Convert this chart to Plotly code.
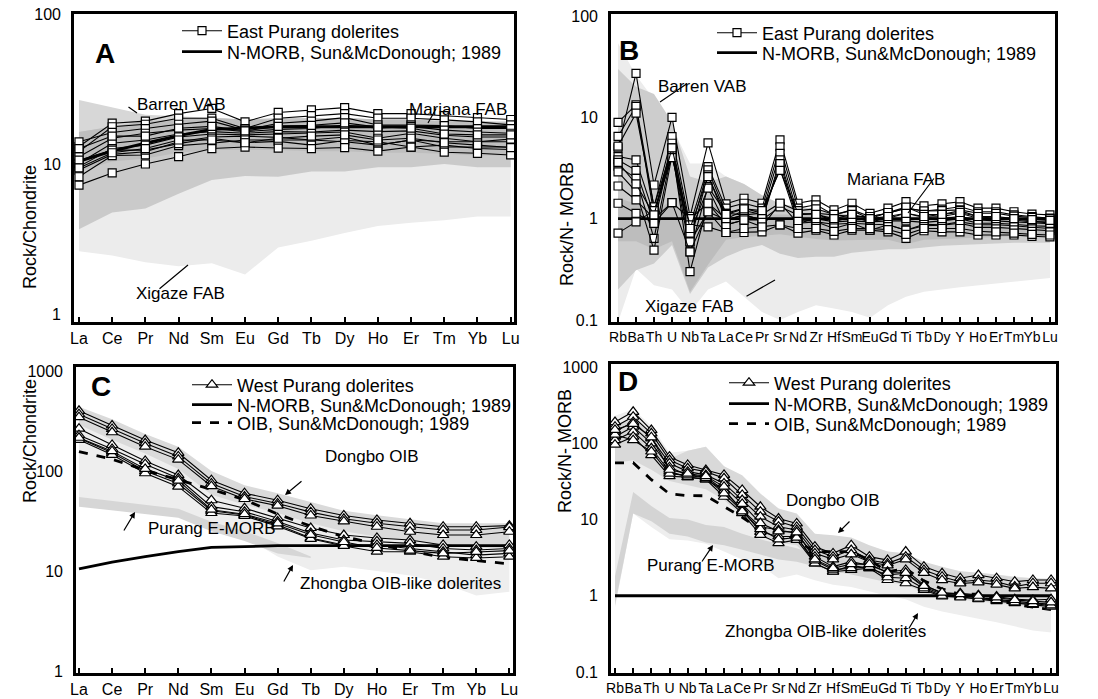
import numpy as np
import plotly.graph_objects as go

W, H = 1098, 699

REE = ["La", "Ce", "Pr", "Nd", "Sm", "Eu", "Gd", "Tb", "Dy", "Ho", "Er", "Tm", "Yb", "Lu"]
SPIDER = ["Rb", "Ba", "Th", "U", "Nb", "Ta", "La", "Ce", "Pr", "Sr", "Nd", "Zr", "Hf",
          "Sm", "Eu", "Gd", "Ti", "Tb", "Dy", "Y", "Ho", "Er", "Tm", "Yb", "Lu"]

# ---------------- Panel A : East Purang, chondrite normalised ----------------
A_SAMPLES = [
    [13.2, 18.9, 19.5, 21.9, 23.7, 19.3, 22.3, 23.2, 24.0, 21.9, 21.9, 21.2, 20.6, 20.0],
    [12.2, 17.9, 18.6, 20.4, 20.4, 17.4, 20.4, 21.2, 21.9, 20.4, 20.4, 19.9, 19.3, 18.4],
    [14.2, 16.4, 17.4, 18.6, 19.5, 17.0, 18.9, 19.5, 20.6, 18.4, 18.4, 18.2, 17.4, 17.4],
    [11.3, 15.0, 16.2, 17.0, 17.4, 16.6, 17.2, 17.4, 18.4, 17.5, 18.0, 17.0, 16.5, 16.2],
    [10.2, 13.9, 14.6, 16.0, 16.6, 16.2, 16.6, 16.5, 17.0, 16.6, 16.8, 15.7, 15.3, 15.3],
    [9.7, 12.8, 13.5, 15.3, 16.0, 15.8, 16.0, 16.2, 16.5, 15.0, 16.2, 15.0, 14.2, 14.8],
    [9.2, 11.7, 12.2, 14.2, 15.3, 15.5, 15.2, 14.6, 15.3, 13.5, 14.6, 14.2, 14.2, 14.2],
    [8.3, 11.5, 11.6, 13.4, 13.9, 14.6, 14.6, 14.6, 14.2, 13.5, 14.6, 13.1, 13.1, 13.1],
    [10.7, 12.5, 12.5, 13.8, 15.0, 14.0, 14.3, 13.5, 14.5, 14.2, 13.1, 13.5, 12.8, 12.6],
    [7.3, 8.8, 10.1, 11.3, 12.8, 13.1, 12.9, 12.8, 13.0, 12.3, 13.1, 12.1, 11.9, 11.6],
    [9.5, 12.0, 12.8, 14.6, 14.6, 14.0, 15.0, 15.5, 15.8, 14.6, 15.0, 14.0, 13.5, 13.0],
    [12.8, 15.5, 15.5, 17.5, 18.0, 16.8, 18.0, 18.3, 19.0, 17.8, 17.5, 16.0, 15.8, 15.8],
]
A_NMORB = [10.5, 12.3, 13.9, 15.6, 17.2, 17.6, 17.9, 17.9, 17.9, 17.8, 17.9, 17.9, 17.9, 17.9]
A_XIGAZE_TOP = [5.0, 6.0, 6.5, 8.0, 10.0, 10.0, 10.0, 11.0, 11.0, 11.0, 11.0, 11.0, 11.0, 11.0]
A_XIGAZE_BOT = [2.64, 2.48, 2.23, 2.10, 2.20, 1.85, 2.80, 3.10, 3.50, 3.90, 4.10, 4.25, 4.50, 4.50]
A_MARIANA_TOP = [16.5, 18.0, 19.5, 20.0, 20.5, 20.0, 20.5, 20.5, 20.5, 20.0, 20.0, 19.5, 19.5, 19.0]
A_MARIANA_BOT = [3.7, 4.8, 5.1, 6.4, 7.9, 8.4, 8.3, 9.0, 9.0, 9.6, 9.6, 10.1, 9.6, 9.6]
A_BARREN_TOP = [27.0, 24.0, 21.5, 21.0, 20.5, 20.0, 20.0, 20.0, 20.5, 20.0, 20.0, 19.5, 19.5, 19.5]
A_BARREN_BOT = [9.0, 10.5, 11.0, 12.0, 12.5, 12.5, 12.5, 12.3, 12.3, 12.0, 12.0, 11.8, 11.5, 11.5]

# ---------------- Panel B : East Purang, N-MORB normalised ----------------
B_SAMPLES = [
    [5.0, 27.2, 2.15, 10.0, 1.05, 5.6, 1.40, 1.59, 1.42, 6.0, 1.42, 1.53, 1.22, 1.42, 1.13, 1.27, 1.47, 1.34, 1.40, 1.47, 1.27, 1.27, 1.17, 1.11, 1.09],
    [8.9, 13.3, 1.31, 6.45, 0.87, 3.26, 1.27, 1.42, 1.27, 5.1, 1.27, 1.37, 1.09, 1.22, 1.05, 1.13, 1.27, 1.19, 1.24, 1.31, 1.17, 1.17, 1.09, 1.05, 1.01],
    [6.5, 12.8, 1.09, 5.55, 0.72, 3.03, 1.13, 1.27, 1.13, 4.4, 1.09, 1.13, 0.93, 1.05, 0.93, 1.01, 1.13, 1.03, 1.05, 1.13, 1.01, 1.01, 0.97, 0.93, 0.93],
    [5.2, 11.0, 1.31, 4.95, 0.59, 2.7, 0.97, 1.09, 0.97, 3.8, 1.0, 0.93, 0.80, 0.90, 0.77, 0.87, 0.77, 0.88, 0.87, 0.93, 0.87, 0.87, 0.85, 0.82, 0.80],
    [4.1, 3.8, 1.09, 4.42, 0.47, 2.07, 1.13, 1.09, 1.13, 3.1, 0.90, 1.0, 0.93, 0.95, 0.93, 0.95, 0.95, 0.92, 0.95, 1.0, 0.90, 0.90, 0.88, 0.85, 0.84],
    [3.8, 3.0, 0.90, 5.0, 0.30, 1.42, 0.87, 0.97, 0.83, 1.42, 0.90, 0.93, 0.88, 0.90, 0.88, 0.87, 0.77, 0.85, 0.86, 0.90, 0.82, 0.82, 0.80, 0.78, 0.76],
    [3.3, 2.5, 0.64, 4.6, 0.59, 1.17, 0.97, 1.09, 0.97, 1.31, 1.09, 1.13, 1.09, 1.05, 1.05, 1.13, 1.27, 1.19, 1.20, 1.22, 1.13, 1.13, 1.06, 1.03, 1.0],
    [2.9, 1.85, 0.49, 4.2, 0.72, 2.0, 0.87, 0.97, 0.97, 3.5, 0.95, 1.0, 0.97, 1.0, 0.97, 1.0, 1.0, 1.0, 1.0, 1.05, 0.97, 0.95, 0.93, 0.90, 0.89],
    [2.1, 1.53, 1.0, 1.44, 0.47, 1.17, 0.73, 0.73, 0.74, 0.87, 0.72, 0.77, 0.69, 0.77, 0.77, 0.74, 0.64, 0.76, 0.74, 0.74, 0.69, 0.69, 0.69, 0.67, 0.66],
    [1.42, 1.13, 0.90, 1.44, 1.0, 1.42, 1.0, 1.2, 1.1, 1.42, 1.2, 1.25, 1.1, 1.2, 1.0, 1.15, 1.3, 1.1, 1.1, 1.2, 1.05, 1.0, 1.0, 0.95, 0.90],
    [0.72, 0.93, 1.2, 4.0, 0.87, 0.83, 0.73, 0.80, 0.83, 0.87, 0.80, 0.80, 0.75, 0.80, 0.80, 0.78, 0.70, 0.80, 0.80, 0.80, 0.75, 0.74, 0.72, 0.70, 0.69],
    [3.6, 2.2, 1.09, 5.0, 0.80, 2.6, 1.1, 1.25, 1.2, 3.0, 1.13, 1.1, 1.0, 1.1, 1.0, 1.05, 1.13, 1.05, 1.1, 1.15, 1.05, 1.05, 1.0, 0.98, 0.96],
]
B_NMORB = [1.0] * len(SPIDER)
B_XIGAZE_TOP = [54, 26, 15, 8, 3.5, 3.5, 2.6, 2.2, 1.7, 1.4, 1.3, 1.25, 1.15, 1.1, 1.05, 1.05, 1.05, 1.05, 1.05, 1.05, 1.0, 1.0, 1.0, 1.0, 1.0]
B_XIGAZE_BOT = [0.095, 0.32, 0.22, 0.2, 0.12, 0.2, 0.24, 0.17, 0.12, 0.1, 0.12, 0.14, 0.13, 0.12, 0.105, 0.14, 0.17, 0.19, 0.2, 0.21, 0.22, 0.23, 0.24, 0.25, 0.26]
B_BARREN_TOP = [30, 20, 17, 9, 2.6, 2.3, 2.6, 2.2, 1.7, 1.4, 1.3, 1.25, 1.15, 1.1, 1.05, 1.05, 1.05, 1.05, 1.05, 1.05, 1.0, 1.0, 1.0, 1.0, 1.0]
B_BARREN_BOT = [0.2, 0.31, 0.36, 0.55, 0.18, 0.33, 0.42, 0.5, 0.55, 0.45, 0.41, 0.42, 0.42, 0.46, 0.48, 0.5, 0.5, 0.52, 0.54, 0.55, 0.56, 0.57, 0.58, 0.58, 0.58]
B_MARIANA_TOP = [1.6, 1.4, 1.2, 1.5, 0.95, 1.4, 1.25, 1.15, 1.1, 1.1, 1.1, 1.1, 1.05, 1.05, 1.0, 1.0, 1.0, 1.0, 1.0, 1.0, 1.0, 0.97, 0.97, 0.95, 0.95]
B_MARIANA_BOT = [0.6, 0.6, 0.5, 0.6, 0.19, 0.35, 0.62, 0.66, 0.68, 0.7, 0.66, 0.63, 0.61, 0.62, 0.62, 0.62, 0.56, 0.62, 0.64, 0.65, 0.65, 0.66, 0.67, 0.68, 0.68]

# ---------------- Panel C : West Purang, chondrite normalised ----------------
C_SAMPLES = [
    [400, 285, 204, 152, 81, 60, 51, 42, 35.9, 32.4, 30, 27.7, 27.7, 28.4],
    [370, 263, 189, 140, 75, 55.5, 47.4, 38.8, 33.3, 30, 27.7, 25.7, 25.7, 27.5],
    [345, 244, 175, 130, 70.5, 52.5, 45, 35.9, 31.3, 27.7, 24.7, 22.9, 22.9, 24.7],
    [265, 182, 126, 91, 51, 42.4, 33.8, 26.9, 22.9, 21.4, 20.4, 18.2, 17.5, 18.2],
    [228, 166, 117, 84.5, 44, 39.2, 31.3, 24, 20.4, 19.8, 18.9, 16.8, 16.2, 16.8],
    [212, 152, 100, 75, 40, 36.3, 29, 21.4, 18.2, 18.2, 16.8, 15.6, 14.4, 15.0],
    [205, 145, 95, 69.7, 38, 35.5, 28, 21, 17.8, 15.6, 15.6, 13.9, 13.5, 13.9],
    [215, 158, 105, 80, 41, 37, 30, 23, 19.5, 17, 16, 15, 15.5, 16],
]
C_NMORB = [10.5, 12.3, 13.9, 15.6, 17.2, 17.6, 17.9, 17.9, 17.9, 17.8, 17.9, 17.9, 17.9, 17.9]
C_OIB = [156, 131, 102, 82.4, 65.4, 51.7, 37.1, 28.1, 22.0, 18.7, 15.8, 13.7, 12.7, 11.8]
C_DONGBO_TOP = [440, 330, 235, 175, 100, 72, 60, 49, 40, 36, 33, 30, 30, 30]
C_DONGBO_BOT = [290, 205, 150, 105, 58, 46, 38, 30, 25, 22, 20, 18, 17, 17]
C_ZHONGBA_TOP = [300, 215, 155, 110, 62, 48, 40, 32, 26, 23, 21, 19, 18, 18]
C_ZHONGBA_BOT = [50, 45, 42, 38, 28, 22, 14, 10.2, 11, 10, 9, 7.5, 5.7, 6.2]
C_EMORB_TOP = [55, 50, 46, 42, 31, 25, 19, 14]
C_EMORB_BOT = [44, 40, 37, 34, 25, 20, 15, 13.5]

# ---------------- Panel D : West Purang, N-MORB normalised ----------------
D_SAMPLES = [
    [190, 259, 149, 66.7, 52, 44.6, 38.5, 24.4, 14.7, 10.3, 8.9, 4.4, 3.6, 4.6, 3.26, 2.94, 3.8, 2.41, 1.97, 1.7, 1.87, 1.7, 1.53, 1.61, 1.61],
    [165, 223, 135, 60.3, 47, 42.5, 34.7, 21, 12.7, 9.4, 8.0, 3.98, 3.26, 3.98, 2.94, 2.66, 3.26, 2.18, 1.78, 1.53, 1.61, 1.53, 1.32, 1.46, 1.46],
    [142, 191, 116, 54.6, 42.5, 38.5, 29.8, 18, 10.9, 8.05, 7.3, 3.6, 3.0, 3.5, 2.8, 2.5, 3.0, 2.0, 1.6, 1.45, 1.5, 1.4, 1.25, 1.3, 1.25],
    [122, 165, 100, 48.5, 38.5, 36, 24.4, 13.3, 8.05, 7.3, 6.6, 3.26, 2.41, 2.8, 2.5, 2.07, 2.18, 1.39, 1.08, 1.08, 1.02, 0.98, 0.90, 0.88, 0.90],
    [110, 142, 86, 42.5, 36, 33.7, 24, 13.3, 6.9, 6.0, 6.0, 2.66, 2.07, 2.5, 2.3, 1.87, 1.97, 1.3, 1.05, 1.0, 0.95, 0.90, 0.85, 0.80, 0.78],
    [96, 122, 70, 37, 36, 33.7, 19.9, 12.1, 6.3, 4.9, 5.4, 2.66, 2.07, 2.18, 2.3, 1.61, 1.46, 1.19, 0.98, 0.98, 0.90, 0.85, 0.80, 0.76, 0.72],
    [130, 110, 78, 40, 38, 35, 22, 12.8, 7.5, 5.5, 5.8, 2.9, 2.2, 2.3, 2.4, 1.75, 1.7, 1.25, 1.0, 0.95, 0.92, 0.88, 0.82, 0.78, 0.75],
    [150, 180, 120, 45, 40, 37, 27, 16, 9, 7, 6.8, 3.0, 2.3, 2.6, 2.6, 2.0, 2.0, 1.35, 1.1, 1.05, 1.0, 0.95, 0.88, 0.85, 0.82],
]
D_NMORB = [1.0] * len(SPIDER)
D_OIB = [55.4, 55.6, 33.3, 21.7, 20.6, 20.5, 14.8, 10.7, 7.35, 7.33, 5.27, 3.78, 3.80, 3.80, 2.94, 2.07, 2.26, 1.57, 1.23, 1.04, 1.05, 0.88, 0.77, 0.71, 0.66]
D_ZHONGBA_TOP = [230, 280, 170, 75, 80, 90, 50, 32, 20, 14, 11, 6.5, 6, 5.5, 4.5, 3.8, 3.5, 2.7, 2.3, 2.1, 2.0, 1.9, 1.8, 1.7, 1.7]
D_ZHONGBA_BOT = [0.7, 12, 8, 5.5, 5.3, 4.8, 3.8, 3.0, 2.5, 1.7, 1.9, 1.6, 1.4, 1.3, 1.15, 1.0, 0.9, 0.72, 0.62, 0.56, 0.5, 0.45, 0.4, 0.35, 0.33]
D_DONGBO_TOP = [180, 200, 140, 62, 80, 90, 50, 38, 22, 14, 12, 6.5, 6.2, 5.8, 4.6, 3.8, 3.6, 2.8, 2.4, 2.1, 2.0, 1.9, 1.75, 1.7, 1.65]
D_DONGBO_BOT = [55, 60, 45, 32, 28, 25, 18, 11, 6.5, 5, 4.6, 2.6, 2.0, 2.0, 1.8, 1.5, 1.4, 1.1, 0.95, 0.9, 0.85, 0.8, 0.75, 0.7, 0.7]
D_EMORB_TOP = [1.8, 23, 15, 10.5, 10, 8.5, 8, 6.5, 5.5, 4.8, 4.2, 3.5, 3.0, 2.8, 2.4, 2.1]
D_EMORB_BOT = [0.75, 12, 9.5, 6.5, 6, 5, 4.6, 4.0, 3.5, 3.0, 2.8, 2.4, 2.1, 1.9, 1.7, 1.5]

FONT = "Liberation Sans, Arial, Helvetica, sans-serif"
fig = go.Figure()


def field(xa, ya, top, bot, color):
    idx = list(range(len(top)))
    fig.add_trace(go.Scatter(
        x=idx + idx[::-1], y=list(top) + list(bot)[::-1], xaxis=xa, yaxis=ya,
        mode="lines", fill="toself", fillcolor=color, line=dict(width=0, color=color),
        hoverinfo="skip", showlegend=False))


def samples(xa, ya, rows, symbol, size, name, legend):
    for k, row in enumerate(rows):
        fig.add_trace(go.Scatter(
            x=list(range(len(row))), y=row, xaxis=xa, yaxis=ya, mode="lines+markers",
            line=dict(color="black", width=1.1),
            marker=dict(symbol=symbol, size=size, color="white", line=dict(color="black", width=1.2)),
            name=name, showlegend=(k == 0), legend=legend))


def refline(xa, ya, vals, name, legend, dash="solid"):
    fig.add_trace(go.Scatter(
        x=list(range(len(vals))), y=vals, xaxis=xa, yaxis=ya, mode="lines",
        line=dict(color="black", width=2.8, dash=dash), name=name, legend=legend))


NM = "N-MORB, Sun&McDonough; 1989"
OI = "OIB, Sun&McDonough; 1989"

# Panel A
field("x", "y", A_XIGAZE_TOP, A_XIGAZE_BOT, "#ececec")
field("x", "y", A_BARREN_TOP, A_BARREN_BOT, "#d7d7d7")
field("x", "y", A_MARIANA_TOP, A_MARIANA_BOT, "#cacaca")
field("x", "y", np.minimum(A_BARREN_TOP, A_MARIANA_TOP), np.maximum(A_BARREN_BOT, A_MARIANA_BOT), "#bebebe")
refline("x", "y", A_NMORB, NM, "legend2")
samples("x", "y", A_SAMPLES, "square", 8, "East Purang dolerites", "legend")

# Panel B
field("x2", "y2", B_XIGAZE_TOP, B_XIGAZE_BOT, "#ececec")
field("x2", "y2", B_BARREN_TOP, B_BARREN_BOT, "#cdcdcd")
field("x2", "y2", B_MARIANA_TOP, B_MARIANA_BOT, "#bdbdbd")
refline("x2", "y2", B_NMORB, NM, "legend4")
samples("x2", "y2", B_SAMPLES, "square", 8, "East Purang dolerites", "legend3")

# Panel C
field("x3", "y3", C_ZHONGBA_TOP, C_ZHONGBA_BOT, "#eeeeee")
field("x3", "y3", C_DONGBO_TOP, C_DONGBO_BOT, "#dadada")
field("x3", "y3", C_EMORB_TOP, C_EMORB_BOT, "#d6d6d6")
refline("x3", "y3", C_NMORB, NM, "legend6")
refline("x3", "y3", C_OIB, OI, "legend7", dash="dash")
samples("x3", "y3", C_SAMPLES, "triangle-up", 10, "West Purang dolerites", "legend5")

# Panel D
field("x4", "y4", D_ZHONGBA_TOP, D_ZHONGBA_BOT, "#eeeeee")
field("x4", "y4", D_DONGBO_TOP, D_DONGBO_BOT, "#d9d9d9")
field("x4", "y4", D_EMORB_TOP, D_EMORB_BOT, "#d4d4d4")
refline("x4", "y4", D_NMORB, NM, "legend9")
refline("x4", "y4", D_OIB, OI, "legend10", dash="dash")
samples("x4", "y4", D_SAMPLES, "triangle-up", 10, "West Purang dolerites", "legend8")


def px(x):
    return x / W


def py(y):
    return 1 - y / H


def xax(l, r, rng, labels, fs, anchor):
    return dict(domain=[px(l), px(r)], range=rng, tickmode="array",
                tickvals=list(range(len(labels))), ticktext=labels, tickangle=0,
                ticks="inside", ticklen=5, tickwidth=1.5, tickcolor="black",
                showline=True, linecolor="black", linewidth=2.6, mirror=True,
                showgrid=False, zeroline=False, tickfont=dict(size=fs, family=FONT),
                automargin=False, anchor=anchor, fixedrange=True)


def yax(t, b, rng, vals, fs, anchor):
    return dict(domain=[py(b), py(t)], type="log", range=rng, tickmode="array",
                tickvals=vals, ticktext=[("%g" % v) for v in vals], ticks="",
                showline=True, linecolor="black", linewidth=2.6, mirror=True,
                showgrid=False, zeroline=False, tickfont=dict(size=16, family=FONT),
                automargin=False, anchor=anchor, ticklabelstandoff=7, fixedrange=True)


layout = dict(
    width=W, height=H, margin=dict(l=0, r=0, t=0, b=0),
    paper_bgcolor="white", plot_bgcolor="white",
    font=dict(family=FONT, color="black"),
    xaxis=xax(74, 514, [-0.15, 13.1], REE, 16, "y"),
    yaxis=yax(14, 322, [-0.05, 2.005], [1, 10, 100], 16, "x"),
    xaxis2=xax(611, 1055, [-0.39, 24.28], SPIDER, 14, "y2"),
    yaxis2=yax(14, 322, [-1.02, 2.02], [0.1, 1, 10, 100], 16, "x2"),
    xaxis3=xax(76, 513, [-0.09, 13.11], REE, 16, "y3"),
    yaxis3=yax(367, 673, [-0.02, 3.04], [1, 10, 100, 1000], 16, "x3"),
    xaxis4=xax(611, 1056, [-0.22, 24.27], SPIDER, 14, "y4"),
    yaxis4=yax(364, 673, [-1.013, 3.04], [0.1, 1, 10, 100, 1000], 16, "x4"),
)

# one legend per legend row (symbol start x, row centre y)
LEG_ROWS = {
    "legend": (183, 31), "legend2": (183, 52),
    "legend3": (718, 33), "legend4": (718, 53),
    "legend5": (193, 385), "legend6": (193, 405), "legend7": (193, 423),
    "legend8": (730, 383), "legend9": (730, 404), "legend10": (730, 424),
}
for key, (sx, sy) in LEG_ROWS.items():
    layout[key] = dict(x=px(sx - 6), y=py(sy), xanchor="left", yanchor="middle",
                       bgcolor="rgba(0,0,0,0)", borderwidth=0, itemwidth=40,
                       font=dict(size=18, family=FONT), tracegroupgap=0)

fig.update_layout(**layout)

ann = []
# panel letters
for t, (x, y) in {"A": (93, 36), "B": (629, 33), "C": (89, 386), "D": (628, 381)}.items():
    ann.append(dict(x=px(x), y=py(y), xref="paper", yref="paper", text="<b>%s</b>" % t,
                    showarrow=False, font=dict(size=28, family=FONT)))
# axis titles
for t, pos in {"Rock/Chondrite": [(18, 163), (18, 505)], "Rock/N- MORB": [(567, 160), (565, 515)]}.items():
    for (xx, yy) in pos:
        ann.append(dict(x=px(xx), y=py(yy), xref="paper", yref="paper", text=t, textangle=-90,
                        showarrow=False, font=dict(size=18, family=FONT)))

# field labels: text centre, leader start, leader tip, arrowhead
LABELS = [
    ("Barren VAB", (135, 93), (127, 106), (137, 113), 0),
    ("Mariana FAB", (458, 98), (437, 107), (428, 123), 0),
    ("Xigaze FAB", (134, 293), (158, 290), (188, 265), 0),
    ("Barren VAB", (702, 75), (688, 83), (660, 102), 0),
    ("Mariana FAB", (947, 168), (935, 177), (908, 213), 0),
    ("Xigaze FAB", (736, 307), (745, 297), (775, 280), 0),
    ("Dongbo OIB", (323, 468), (303, 480), (285, 495), 2),
    ("Purang E-MORB", (146, 540), (123, 532), (135, 512), 2),
    ("Zhongba OIB-like dolerites", (298, 595), (283, 583), (293, 565), 2),
    ("Dongbo OIB", (882, 512), (851, 520), (838, 533), 2),
    ("Purang E-MORB", (711, 577), (701, 563), (713, 545), 2),
    ("Zhongba OIB-like dolerites", (928, 643), (908, 630), (918, 613), 2),
]
for text, (tx, ty), (sx, sy), (ex, ey), head in LABELS:
    ann.append(dict(x=px(tx), y=py(ty), xref="paper", yref="paper", text=text,
                    showarrow=False, font=dict(size=17, family=FONT)))
    ann.append(dict(x=px(ex), y=py(ey), xref="paper", yref="paper", text="",
                    showarrow=True, ax=sx - ex, ay=sy - ey, arrowhead=head,
                    arrowsize=1.0, arrowwidth=1.2, arrowcolor="black"))

fig.update_layout(annotations=ann)
fig.write_html("out.html", config={"displayModeBar": False},
               post_script="document.body.style.margin='0px';document.body.style.padding='0px';")
